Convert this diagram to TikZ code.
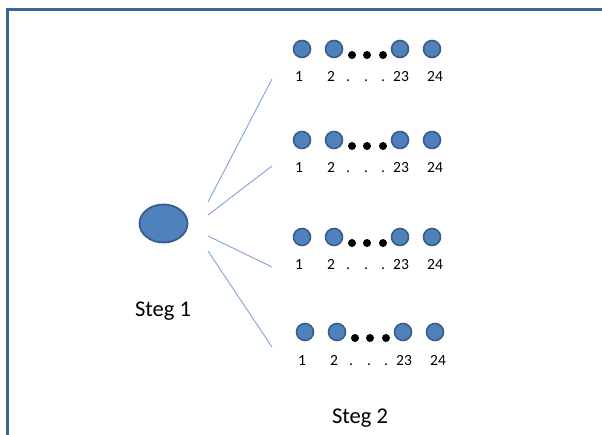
\documentclass[tikz,border=0pt]{standalone}
\usepackage{fontspec}
\setmainfont{Carlito}
\usetikzlibrary{shapes.geometric}
\definecolor{frameblue}{HTML}{3E6597}
\definecolor{ballfill}{HTML}{4F81BD}
\definecolor{balledge}{HTML}{385D8A}
\definecolor{spoke}{HTML}{7FA4D4}
\begin{document}
\begin{tikzpicture}[x=1pt,y=-1pt,
  ball/.style={circle,fill=ballfill,draw=balledge,line width=1.6pt,minimum size=17pt,inner sep=0pt},
  bigball/.style={ellipse,fill=ballfill,draw=balledge,line width=1.8pt,minimum width=48pt,minimum height=38pt,inner sep=0pt},
  gap/.style={circle,fill=black,minimum size=8pt,inner sep=0pt},
  num/.style={font=\fontsize{15.5}{15.5}\selectfont,inner sep=0pt,anchor=base},
  steg/.style={font=\fontsize{22.5}{22.5}\selectfont,inner sep=0pt,anchor=base},
  spokeline/.style={draw=spoke,line width=0.9pt}]
\useasboundingbox (0,0) rectangle (602,435);
\clip (0,0) rectangle (602,435);
\fill[white] (0,0) rectangle (602,435);
% outer frame, running past the right and bottom edges
\draw[frameblue,line width=3pt] (7,450) -- (7,9.5) -- (620,9.5);

% first step: a single ball
\node[bigball] (s1) at (163.5,223.5) {};
\node[steg] (s1lab) at (163,317) {Steg 1};

% second step: four rows of 24 balls each
\foreach \r/\dx/\y in {1/0/49, 2/0/140, 3/0/237, 4/3/332}{
  \begin{scope}[xshift=\dx]
    \node[ball] (r\r b1)  at (302,\y) {};
    \node[ball] (r\r b2)  at (334,\y) {};
    \node[gap]  (r\r g1)  at (352,\y+6) {};
    \node[gap]  (r\r g2)  at (367,\y+6) {};
    \node[gap]  (r\r g3)  at (383,\y+6) {};
    \node[ball] (r\r b23) at (400,\y) {};
    \node[ball] (r\r b24) at (432,\y) {};
    \node[num]  (r\r n1)  at (299,\y+33) {1};
    \node[num]  (r\r n2)  at (331,\y+33) {2};
    \node[num]  (r\r d1)  at (348,\y+33) {.};
    \node[num]  (r\r d2)  at (366,\y+33) {.};
    \node[num]  (r\r d3)  at (383,\y+33) {.};
    \node[num]  (r\r n23) at (401,\y+33) {23};
    \node[num]  (r\r n24) at (435,\y+33) {24};
  \end{scope}
}
\node[steg] (s2lab) at (360,423) {Steg 2};

% spokes from the first step towards each row
\coordinate (a1) at (208,202); \coordinate (e1) at (272,79);
\coordinate (a2) at (208,215); \coordinate (e2) at (272,166);
\coordinate (a3) at (208,236); \coordinate (e3) at (272,267);
\coordinate (a4) at (208,251); \coordinate (e4) at (272,347);
\foreach \i in {1,...,4}{ \draw[spokeline] (a\i) -- (e\i); }
\end{tikzpicture}
\end{document}
